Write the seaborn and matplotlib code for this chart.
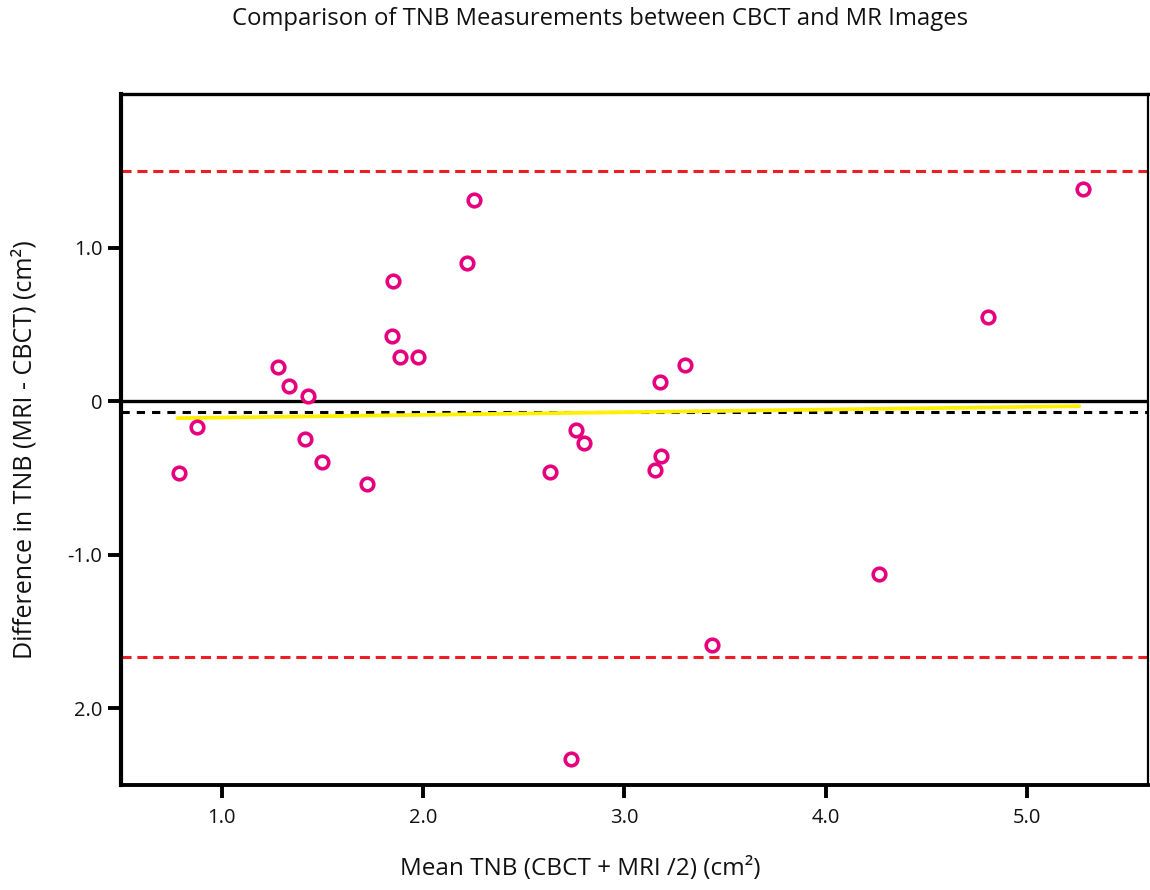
import numpy as np
import pandas as pd
import matplotlib
matplotlib.use("Agg")
import matplotlib.pyplot as plt
import seaborn as sns

# ---- data ----
mean_tnb = [0.79, 0.876, 1.278, 1.333, 1.427, 1.412, 1.501, 1.72, 1.849, 1.844,
            1.888, 1.973, 2.221, 2.256, 2.633, 2.762, 2.801, 2.737, 3.154, 3.184,
            3.179, 3.303, 3.437, 4.266, 4.806, 5.278]
diff_tnb = [-0.47, -0.17, 0.222, 0.098, 0.033, -0.248, -0.399, -0.542, 0.784, 0.425,
            0.288, 0.288, 0.902, 1.307, -0.464, -0.19, -0.275, -2.333, -0.451, -0.359,
            0.124, 0.235, -1.588, -1.124, 0.549, 1.379]
mean_diff = -0.072
upper_loa = 1.497
lower_loa = -1.667
trend_x = [0.78, 5.26]
trend_y = [-0.111, -0.033]

x_ticks = [1.0, 2.0, 3.0, 4.0, 5.0]
x_tick_labels = ["1.0", "2.0", "3.0", "4.0", "5.0"]
y_ticks = [1.0, 0.0, -1.0, -2.0]
y_tick_labels = ["1.0", "0", "-1.0", "2.0"]

title = "Comparison of TNB Measurements between CBCT and MR Images"
x_label = "Mean TNB (CBCT + MRI /2) (cm²)"
y_label = "Difference in TNB (MRI - CBCT) (cm²)"

df = pd.DataFrame({"mean": mean_tnb, "diff": diff_tnb})
trend = pd.DataFrame({"x": trend_x, "y": trend_y})

sns.set_theme(style="white")
plt.rcParams["font.family"] = ["Open Sans", "DejaVu Sans"]

fig = plt.figure(figsize=(11.5, 8.9), dpi=100)
ax = fig.add_axes([0.1052, 0.118, 0.8928, 0.7764])

ax.set_xlim(0.5, 5.6)
ax.set_ylim(-2.5, 2.0)

# reference lines
ax.axhline(upper_loa, color="#ee1c25", lw=2.2, ls=(0, (3.3, 1.9)), zorder=2)
ax.axhline(lower_loa, color="#ee1c25", lw=2.2, ls=(0, (3.3, 1.9)), zorder=2)
ax.axhline(0, color="black", lw=2.4, zorder=2)
ax.axhline(mean_diff, color="black", lw=2.2, ls=(0, (2.7, 2.3)), zorder=2)

sns.lineplot(data=trend, x="x", y="y", color="#fff000", lw=2.7, ax=ax, zorder=3)

sns.scatterplot(data=df, x="mean", y="diff", ax=ax, marker="o",
                s=82, facecolor="white", edgecolor="#e6007e", linewidth=2.6, zorder=4)

ax.set_xticks(x_ticks)
ax.set_xticklabels(x_tick_labels)
ax.set_yticks(y_ticks)
ax.set_yticklabels(y_tick_labels)

ax.tick_params(axis="both", which="major", direction="out", length=9.5, width=2.8,
               color="black", labelsize=14.5, labelcolor="#111111",
               bottom=True, left=True, top=False, right=False)
ax.tick_params(axis="x", pad=7)
ax.tick_params(axis="y", pad=4)

for side, w in [("left", 3.0), ("top", 2.4), ("bottom", 2.8), ("right", 1.6)]:
    ax.spines[side].set_visible(True)
    ax.spines[side].set_linewidth(w)
    ax.spines[side].set_color("black")

ax.set_xlabel(x_label, fontsize=17.5, color="#111111")
ax.set_ylabel(y_label, fontsize=18, color="#111111")
ax.xaxis.set_label_coords(0.447, -0.104)
ax.yaxis.set_label_coords(-0.081, 0.485)

fig.text(0.5217, 0.979, title, ha="center", va="center", fontsize=17.2, color="#111111")

fig.savefig("out.png", dpi=100, facecolor="white")
